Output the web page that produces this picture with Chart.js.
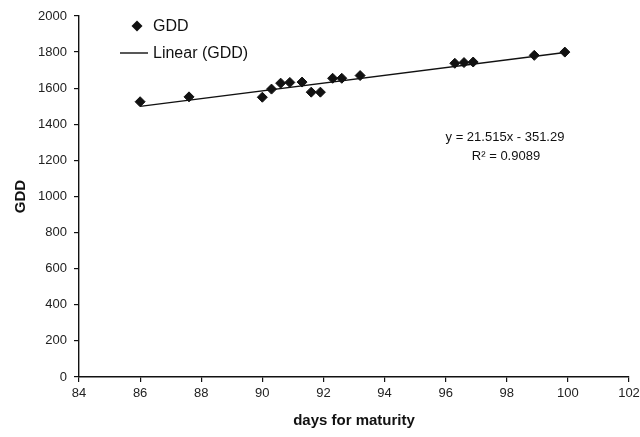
<!DOCTYPE html>
<html lang="en">
<head>
  <meta charset="UTF-8">
  <title>GDD vs days for maturity</title>
  <script src="https://cdn.jsdelivr.net/npm/chart.js"></script>
  <style>
    html, body {
      margin: 0;
      padding: 0;
      background: #fff;
    }
    #wrap {
      width: 640px;
      height: 437px;
    }
  </style>
</head>
<body>
  <div id="wrap">
    <canvas id="gddChart" width="640" height="437"></canvas>
  </div>

  <script>
    // days to maturity and accumulated growing degree days per entry
    const days = [86, 87.6, 90, 90.3, 90.6, 90.9, 91.3, 91.6, 91.9, 92.3, 92.6, 93.2, 96.3, 96.6, 96.9, 98.9, 99.9];
    const gdd = [1525, 1552, 1550, 1595, 1628, 1632, 1634, 1578, 1578, 1655, 1655, 1670, 1738, 1742, 1745, 1782, 1800];

    const xTicks = [84, 86, 88, 90, 92, 94, 96, 98, 100, 102];
    const yTicks = [0, 200, 400, 600, 800, 1000, 1200, 1400, 1600, 1800, 2000];

    // linear trend as reported on the chart
    const slope = 21.515;
    const intercept = -351.29;
    const rSquared = 0.9089;

    const ink = "#111";
    const font = "'Liberation Sans', Arial, sans-serif";

    const points = days.map((d, i) => ({ x: d, y: gdd[i] }));
    const xLo = Math.min(...days);
    const xHi = Math.max(...days);
    const trend = [xLo, xHi].map(x => ({ x: x, y: slope * x + intercept }));

    // legend box and equation label, drawn inside the plot like a spreadsheet chart
    const overlay = {
      id: "overlay",
      afterDraw(chart) {
        const ctx = chart.ctx;
        const area = chart.chartArea;
        ctx.save();
        ctx.fillStyle = ink;
        ctx.strokeStyle = ink;
        ctx.textBaseline = "middle";

        // legend: marker entry
        const mx = area.left + 58, my = area.top + 10;
        ctx.beginPath();
        ctx.moveTo(mx, my - 5.5);
        ctx.lineTo(mx + 5.5, my);
        ctx.lineTo(mx, my + 5.5);
        ctx.lineTo(mx - 5.5, my);
        ctx.closePath();
        ctx.fill();
        ctx.font = "16px " + font;
        ctx.textAlign = "left";
        ctx.fillText("GDD", area.left + 74, my + 1);

        // legend: trend line entry
        const ly = area.top + 37;
        ctx.lineWidth = 1.4;
        ctx.beginPath();
        ctx.moveTo(area.left + 41, ly);
        ctx.lineTo(area.left + 69, ly);
        ctx.stroke();
        ctx.fillText("Linear (GDD)", area.left + 74, ly + 1);

        // regression equation
        ctx.font = "13px " + font;
        ctx.textAlign = "center";
        const ex = area.left + 426;
        ctx.fillText("y = " + slope + "x - " + Math.abs(intercept), ex, area.top + 121);
        ctx.fillText("R\u00b2 = " + rSquared, ex + 1, area.top + 140);
        ctx.restore();
      }
    };

    new Chart(document.getElementById("gddChart").getContext("2d"), {
      type: "scatter",
      data: {
        datasets: [
          {
            label: "Linear (GDD)",
            type: "line",
            data: trend,
            borderColor: ink,
            borderWidth: 1.4,
            pointRadius: 0,
            fill: false,
            order: 2
          },
          {
            label: "GDD",
            data: points,
            pointStyle: "rectRot",
            radius: 5,
            borderWidth: 1,
            backgroundColor: ink,
            borderColor: ink,
            order: 1
          }
        ]
      },
      options: {
        responsive: false,
        animation: false,
        layout: { padding: { top: 16, right: 11, bottom: 0, left: 0 } },
        plugins: {
          legend: { display: false },
          tooltip: { enabled: false }
        },
        scales: {
          x: {
            type: "linear",
            min: xTicks[0],
            max: xTicks[xTicks.length - 1],
            afterBuildTicks: s => { s.ticks = xTicks.map(v => ({ value: v })); },
            // the last label may run to the canvas edge
            afterFit: s => { s.height = 60; s.paddingRight = 0; },
            grid: { drawOnChartArea: false, tickLength: 5, color: ink, lineWidth: 1.2 },
            border: { color: ink, width: 1.4 },
            ticks: { color: "#222", padding: 4, font: { family: font, size: 13 }, callback: v => String(v) },
            title: {
              display: true,
              text: "days for maturity",
              color: ink,
              padding: { top: 0, bottom: 7 },
              font: { family: font, size: 15, weight: "bold" }
            }
          },
          y: {
            min: yTicks[0],
            max: yTicks[yTicks.length - 1],
            afterBuildTicks: s => { s.ticks = yTicks.map(v => ({ value: v })); },
            afterFit: s => { s.width = 79; },
            grid: { drawOnChartArea: false, tickLength: 5, color: ink, lineWidth: 1.2 },
            border: { color: ink, width: 1.4 },
            ticks: { color: "#222", padding: 7, font: { family: font, size: 13 }, callback: v => String(v) },
            title: {
              display: true,
              text: "GDD",
              color: ink,
              padding: { top: 12, bottom: 0 },
              font: { family: font, size: 15, weight: "bold" }
            }
          }
        }
      },
      plugins: [overlay]
    });
  </script>
</body>
</html>
